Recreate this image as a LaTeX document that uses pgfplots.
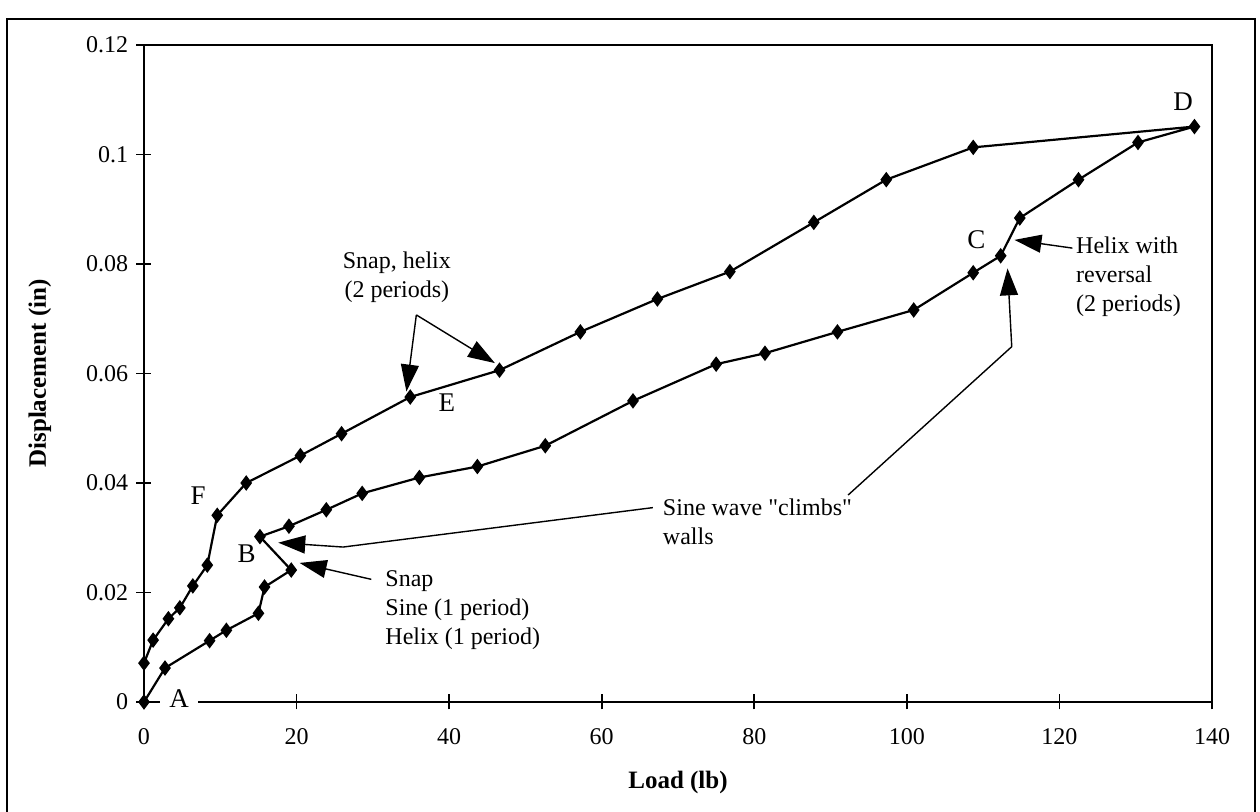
\documentclass[border=0pt]{standalone}
\usepackage{fontspec}
\setmainfont{Liberation Serif}[Ligatures=TeXOff]
\usepackage{pgfplots}
\pgfplotsset{compat=1.18}
\usetikzlibrary{arrows.meta}

\begin{document}
\begin{tikzpicture}
\useasboundingbox (-72pt,-55pt) rectangle (558pt,351pt);
\draw[line width=1pt] (-68.5pt,-60pt) -- (-68.5pt,341.5pt) -- (555.5pt,341.5pt) -- (555.5pt,-60pt);
\begin{axis}[
  at={(0pt,0pt)}, anchor=south west,
  scale only axis, width=534pt, height=328.5pt,
  xmin=0, xmax=140, ymin=0, ymax=0.12,
  xtick={0,20,40,60,80,100,120,140},
  xticklabels={0,20,40,60,80,100,120,140},
  ytick={0,0.02,0.04,0.06,0.08,0.1,0.12},
  yticklabels={0,0.02,0.04,0.06,0.08,0.1,0.12},
  /pgf/number format/assume math mode=true,
  tick align=center, major tick length=7.5pt,
  xtick pos=bottom, ytick pos=left,
  tick style={black, line width=0.8pt},
  axis line style={line width=0.8pt},
  tick label style={font=\fontsize{12}{14}\selectfont},
  xticklabel style={anchor=north, inner sep=0pt, yshift=-9.5pt},
  yticklabel style={anchor=east, inner sep=0pt, xshift=-4pt},
  label style={font=\fontsize{12.5}{14}\selectfont\bfseries},
  xlabel={Load (lb)},
  ylabel={Displacement (in)},
  xlabel style={at={(axis description cs:0.5,-0.1218)}, anchor=center},
  ylabel style={at={(axis description cs:-0.0974,0.5)}, anchor=center},
  clip=false,
]
\addplot[black, line width=1.1pt, mark=diamond*, mark size=3pt, mark options={solid, fill=black}] coordinates {
(0,0)
(2.75,0.0062)
(8.6,0.0112)
(10.8,0.0131)
(15.0,0.0162)
(15.8,0.0210)
(19.3,0.0241)
(15.2,0.0302)
(19.0,0.0321)
(23.9,0.0351)
(28.6,0.0381)
(36.1,0.0410)
(43.7,0.0430)
(52.6,0.0468)
(64.1,0.0550)
(75.0,0.0617)
(81.4,0.0637)
(90.9,0.0676)
(100.9,0.0716)
(108.7,0.0784)
(112.3,0.0815)
(114.8,0.0884)
(122.5,0.0954)
(130.3,0.1022)
(137.7,0.1051)
(108.7,0.1013)
(97.3,0.0954)
(87.8,0.0876)
(76.8,0.0786)
(67.3,0.0736)
(57.2,0.0676)
(46.6,0.0606)
(34.9,0.0557)
(25.9,0.0490)
(20.5,0.0450)
(13.4,0.0400)
(9.6,0.0341)
(8.3,0.0250)
(6.4,0.0212)
(4.7,0.0172)
(3.2,0.0152)
(1.2,0.0113)
(0,0.0071)
};
% point letters
\begin{scope}[every node/.style={font=\fontsize{13.5}{14}\selectfont}]
\node[fill=white, inner xsep=4.5pt, inner ysep=0.5pt] at (axis cs:4.6,0.0006) {A};
\node at (axis cs:13.45,0.0271) {B};
\node at (axis cs:109.1,0.0844) {C};
\node at (axis cs:136.2,0.1097) {D};
\node at (axis cs:39.7,0.0547) {E};
\node at (axis cs:7.1,0.0376) {F};
\end{scope}
% annotations
\begin{scope}[every node/.style={font=\fontsize{12}{14.5}\selectfont, inner sep=0pt},
  ann/.style={line width=0.7pt, -{Triangle[length=13.5pt,width=9pt]}}]
\node[align=center] at (axis cs:33.15,0.0776) {Snap, helix\\(2 periods)};
\draw[ann] (axis cs:35.7,0.0707) -- (axis cs:34.4,0.0567);
\draw[ann] (axis cs:35.7,0.0707) -- (axis cs:46.0,0.0619);
\node[align=left, anchor=west] at (axis cs:122.15,0.0777) {Helix with\\reversal\\(2 periods)};
\draw[ann] (axis cs:121.7,0.0829) -- (axis cs:114.1,0.0844);
\node[align=left, anchor=west] at (axis cs:67.98,0.0330) {Sine wave "climbs"\\walls};
\draw[ann] (axis cs:66.7,0.0355) -- (axis cs:26.1,0.0283) -- (axis cs:17.6,0.0291);
\draw[ann] (axis cs:92.3,0.0378) -- (axis cs:113.75,0.0649) -- (axis cs:113.2,0.0792);
\node[align=left, anchor=west] at (axis cs:31.6,0.01677) {Snap\\Sine (1 period)\\Helix (1 period)};
\draw[ann] (axis cs:29.8,0.0224) -- (axis cs:20.4,0.0254);
\end{scope}
\end{axis}
\end{tikzpicture}
\end{document}
